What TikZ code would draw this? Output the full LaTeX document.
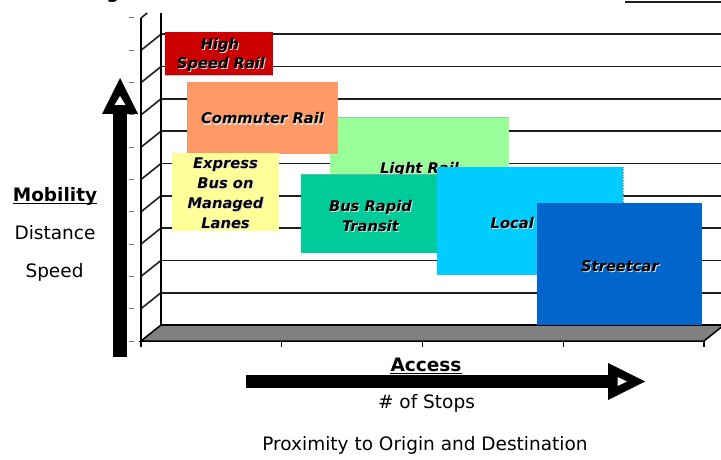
\documentclass[tikz,border=0pt]{standalone}
\usepackage{fontspec}
\setmainfont{DejaVu Sans}
\definecolor{hsrred}{HTML}{CC0000}
\definecolor{crsalmon}{HTML}{FF9966}
\definecolor{exyellow}{HTML}{FFFF99}
\definecolor{lrgreen}{HTML}{99FF99}
\definecolor{brtteal}{HTML}{00CC99}
\definecolor{localcyan}{HTML}{00CCFF}
\definecolor{scblue}{HTML}{0066CC}
\definecolor{floorgray}{HTML}{808080}
\begin{document}
\begin{tikzpicture}[x=1pt,y=-1pt,
  gridline/.style={line width=1.6pt, draw=black!88},
  axisline/.style={line width=2pt, draw=black},
  smalltick/.style={line width=1pt, draw=black!55},
  tbox/.style={inner sep=0pt, outer sep=0pt, anchor=north west, draw=none},
  dotedge/.style={draw=gray!70, line width=0.6pt, densely dotted},
  boxlbl/.style={font=\fontsize{14.7}{19}\selectfont\bfseries\itshape, inner sep=0pt, anchor=base},
  boxshadow/.style={boxlbl, text=gray!25},
  axlbl/.style={font=\fontsize{18.5}{22}\selectfont, inner sep=0pt, anchor=base},
  axbold/.style={axlbl, font=\fontsize{18.5}{22}\selectfont\bfseries},
  underl/.style={line width=1.4pt}
]
\useasboundingbox (0,0) rectangle (721,460);

% one line of box text with its light drop shadow
\newcommand\boxline[3]{%
  \node[boxshadow, xshift=1pt, yshift=-1pt] at (#2) {#3};
  \node[boxlbl] (#1) at (#2) {#3};}

% ---- back wall grid and depth lines ----
\foreach \k in {1,...,9}{
  \pgfmathsetmacro\yb{325-32.3*\k}
  \draw[gridline] (161,\yb) -- (721,\yb);
  \draw[gridline] (141,\yb+16) -- (161,\yb);
  \draw[smalltick] (129,\yb+16) -- (134,\yb+16);
}
\draw[gridline] (625,2) -- (721,2);
\draw[gridline] (141,18) -- (147.25,13);
\draw[smalltick] (129,18) -- (134,18);
\draw[smalltick] (129,341) -- (134,341);

% wall edge and front axis
\draw[axisline] (161,13) -- (161,325);
\draw[axisline] (141,18) -- (141,341);

% ---- floor ----
\filldraw[fill=floorgray, draw=black, line width=1.5pt]
  (141,341) -- (704,341) -- (724,325) -- (161,325) -- cycle;
\draw[line width=2.2pt] (161,325) -- (724,325);
\foreach \x in {141,281.75,422.5,563.25,704}
  \draw[line width=1.2pt] (\x,341) -- (\x,347);

% ---- mode boxes ----
\node[tbox, fill=lrgreen, minimum width=179pt, minimum height=102pt] (lr) at (330,117) {};
\draw[dotedge] (lr.north west) -- (lr.north east);
\boxline{lrt}{419.5,173}{Light Rail}

\node[tbox, fill=crsalmon, minimum width=151pt, minimum height=72pt] (cr) at (187,82) {};
\draw[dotedge] (cr.north west) -- (cr.south west);
\boxline{crt}{262.5,124}{Commuter Rail}

\node[tbox, fill=hsrred, minimum width=108pt, minimum height=43pt] (hsr) at (165,32) {};
\draw[dotedge] (hsr.south west) -- (hsr.south east);
\boxline{hsra}{220,50}{High}
\boxline{hsrb}{221,69}{Speed Rail}

\node[tbox, fill=exyellow, minimum width=107pt, minimum height=78pt] (ex) at (172,153) {};
\boxline{exa}{225.5,168}{Express}
\boxline{exb}{225.5,188.5}{Bus on}
\boxline{exc}{225.5,208}{Managed}
\boxline{exd}{225.5,228}{Lanes}

\node[tbox, fill=brtteal, minimum width=138pt, minimum height=79pt] (brt) at (301,174) {};
\draw[dotedge] (brt.north west) -- (brt.north east);
\boxline{brta}{370.5,211}{Bus Rapid}
\boxline{brtb}{370.5,231}{Transit}

\node[tbox, fill=localcyan, minimum width=186pt, minimum height=108pt] (lb) at (437,167) {};
\draw[dotedge] (lb.north east) -- (lb.south east);
\boxline{lbt}{530,228}{Local Bus}

\node[tbox, fill=scblue, minimum width=165pt, minimum height=122pt] (sc) at (537,203) {};
\boxline{sct}{620,271}{Streetcar}

% ---- mobility arrow ----
\coordinate (vtail) at (120,357);
\coordinate (vbase) at (120,112);
\coordinate (vtip) at (120,78);
\draw[line width=14pt] (vtail) -- (vbase);
\fill (vtip) -- (138,114) -- (102,114) -- cycle;
\fill[white] (120,96) -- (125.5,105) -- (114.5,105) -- cycle;

% ---- access arrow ----
\coordinate (htail) at (246,381.5);
\coordinate (hbase) at (610,381.5);
\coordinate (htip) at (645,381.5);
\draw[line width=13pt] (htail) -- (hbase);
\fill (htip) -- (608,363) -- (608,400) -- cycle;
\fill[white] (627,381.5) -- (617.5,377) -- (617.5,386) -- cycle;

% ---- axis labels ----
\node[axbold] (mob) at (55,201) {Mobility};
\draw[underl] ([yshift=-2.6pt]mob.base west) -- ([yshift=-2.6pt]mob.base east);
\node[axlbl] (dist) at (55,239) {Distance};
\node[axlbl] (spd) at (54.5,277) {Speed};

\node[axbold] (acc) at (426,371) {Access};
\draw[underl] ([yshift=-2.6pt]acc.base west) -- ([yshift=-2.6pt]acc.base east);
\node[axlbl] (stops) at (426.5,408) {\# of Stops};
\node[axlbl] (prox) at (425,450) {Proximity to Origin and Destination};

% title descender at the top edge
\node[axbold] (ttl) at (113,-1.5) {g};
\end{tikzpicture}
\end{document}
